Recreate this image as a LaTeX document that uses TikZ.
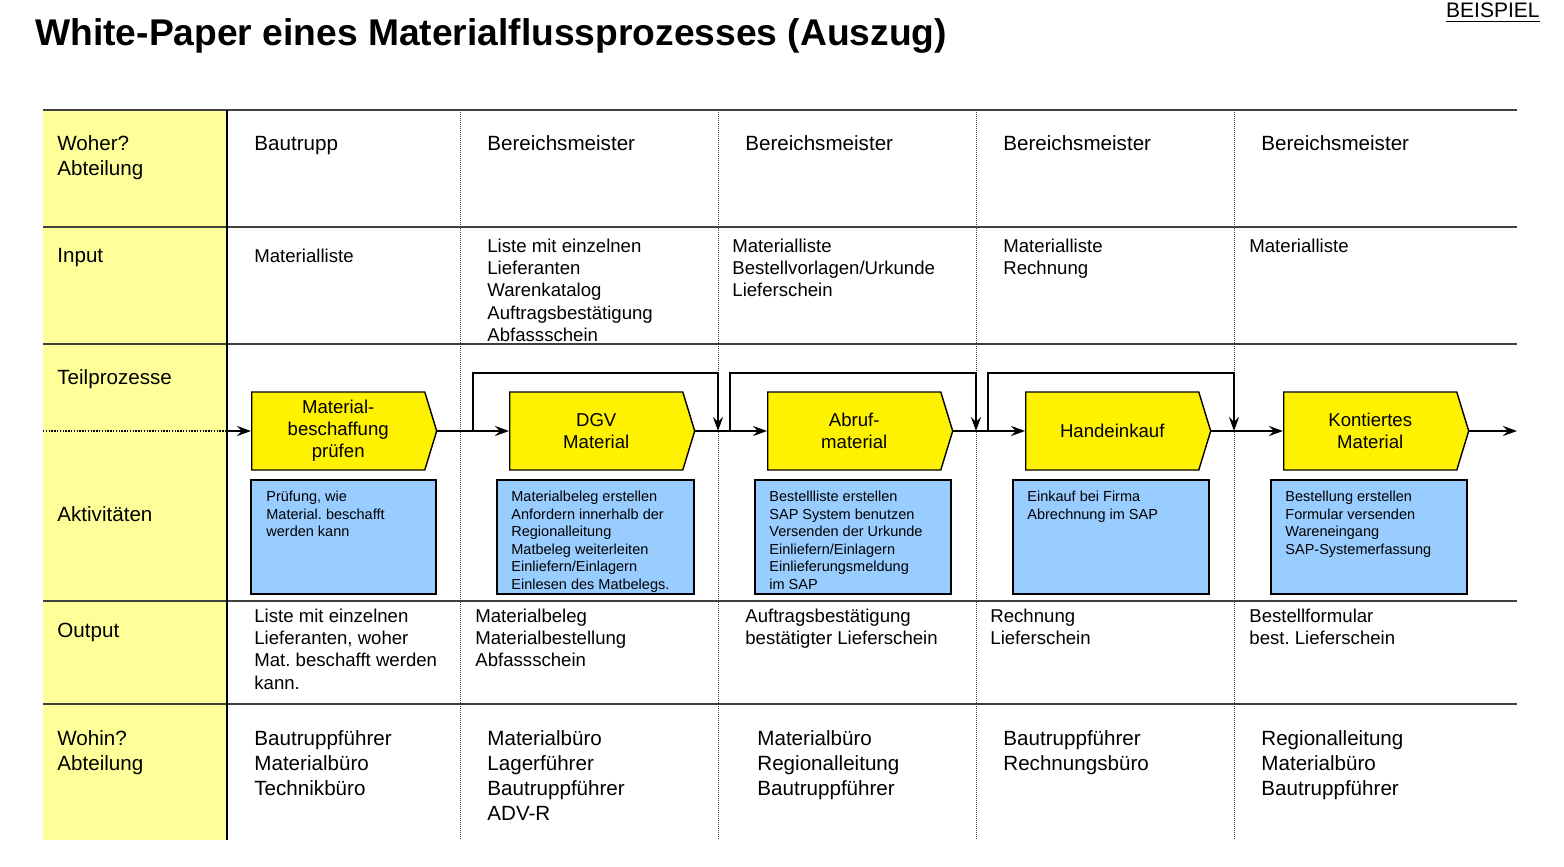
\documentclass[tikz,border=0pt]{standalone}
\usepackage{fontspec}
\setmainfont{Liberation Sans}
\usetikzlibrary{arrows.meta,shapes.symbols}
\definecolor{spaltengelb}{HTML}{FFFF99}
\definecolor{aktivblau}{HTML}{99CCFF}
\definecolor{linie}{HTML}{404040}
\frenchspacing

\begin{document}
\begin{tikzpicture}[x=0.5pt,y=-0.5pt,
  kopf/.style={anchor=north west,inner sep=0pt,align=left,font=\fontsize{10.3}{12.4}\selectfont},
  eintrag/.style={anchor=north west,inner sep=0pt,align=left,font=\fontsize{9.3}{11.2}\selectfont},
  prozess/.style={shape=signal,signal to=east,signal from=nowhere,signal pointer angle=146,
    fill=yellow,draw=black,line width=0.7pt,minimum width=92.5pt,minimum height=39pt,
    inner sep=0pt,align=center,anchor=west,font=\fontsize{9.3}{11}\selectfont},
  aktiv/.style={draw=black,line width=1pt,fill=aktivblau},
  aktext/.style={anchor=north west,inner sep=0pt,align=left,font=\fontsize{7.25}{8.75}\selectfont},
  fluss/.style={line width=1pt,-{Stealth[length=7pt,width=5pt,inset=2.5pt]}},
  trenner/.style={black!75,line width=0.5pt,dash pattern=on 0.5pt off 0.5pt}]
  \useasboundingbox (0,0) rectangle (1564,867);

  \node[anchor=base west,inner sep=0pt,font=\fontsize{18.6}{22}\selectfont\bfseries] (titel) at (35,46)
    {White-Paper eines Materialflussprozesses (Auszug)};
  \node[anchor=base east,inner sep=0pt,font=\fontsize{10.5}{12}\selectfont] (beispiel) at (1540,18)
    {\underline{BEISPIEL}};

  \fill[spaltengelb] (43,110) rectangle (227,840);
  \foreach \y in {110,227,344,601,704}
    \draw[linie,line width=1pt] (43,\y) -- (1517,\y);
  \draw[black,line width=0.6pt] (227,110) -- (227,840);
  \foreach \x in {460,718,976,1234}
    \draw[trenner] (\x,110) -- (\x,840);
  \draw[black,line width=0.9pt,dash pattern=on 0.7pt off 0.7pt] (43,431) -- (227,431);

  \node[kopf] (woher) at (57,135.6) {Woher?\\Abteilung};
  \node[kopf] (input) at (57,247.6) {Input};
  \node[kopf] (teil) at (57,369.6) {Teilprozesse};
  \node[kopf] (akt) at (57,506.6) {Aktivitäten};
  \node[kopf] (output) at (57,622.6) {Output};
  \node[kopf] (wohin) at (57,730.6) {Wohin?\\Abteilung};

  \node[kopf] (von1) at (254,135.6) {Bautrupp};
  \node[kopf] (von2) at (487,135.6) {Bereichsmeister};
  \node[kopf] (von3) at (745,135.6) {Bereichsmeister};
  \node[kopf] (von4) at (1003,135.6) {Bereichsmeister};
  \node[kopf] (von5) at (1261,135.6) {Bereichsmeister};

  \node[eintrag] (in1) at (254,248.3) {Materialliste};
  \node[eintrag] (in2) at (487,238.3) {Liste mit einzelnen\\Lieferanten\\Warenkatalog\\Auftragsbestätigung\\Abfassschein};
  \node[eintrag] (in3) at (732,238.3) {Materialliste\\Bestellvorlagen/Urkunde\\Lieferschein};
  \node[eintrag] (in4) at (1003,238.3) {Materialliste\\Rechnung};
  \node[eintrag] (in5) at (1249,238.3) {Materialliste};

  \node[prozess] (p1) at (251,431) {Material-\\beschaffung\\prüfen};
  \node[prozess] (p2) at (509,431) {DGV\\Material};
  \node[prozess] (p3) at (767,431) {Abruf-\\material};
  \node[prozess] (p4) at (1025,431) {Handeinkauf};
  \node[prozess] (p5) at (1283,431) {Kontiertes\\Material};

  \coordinate (start) at (227,431);
  \coordinate (ende) at (1517,431);
  \draw[fluss] (start) -- (p1.west);
  \draw[fluss] (p1.east) -- (p2.west);
  \draw[fluss] (p2.east) -- (p3.west);
  \draw[fluss] (p3.east) -- (p4.west);
  \draw[fluss] (p4.east) -- (p5.west);
  \draw[fluss] (p5.east) -- (ende);
  \foreach \a/\z in {473/718,730/976,988/1234}
    \draw[fluss] (\a,431) -- (\a,373) -- (\z,373) -- (\z,431);

  \draw[aktiv] (251,480) rectangle (436,594);
  \draw[aktiv] (497,480) rectangle (694,594);
  \draw[aktiv] (755,480) rectangle (951,594);
  \draw[aktiv] (1013,480) rectangle (1209,594);
  \draw[aktiv] (1271,480) rectangle (1467,594);
  \node[aktext] (t1) at (266,490.8) {Prüfung, wie\\Material. beschafft\\werden kann};
  \node[aktext] (t2) at (511,490.8) {Materialbeleg erstellen\\Anfordern innerhalb der\\Regionalleitung\\Matbeleg weiterleiten\\Einliefern/Einlagern\\Einlesen des Matbelegs.};
  \node[aktext] (t3) at (769,490.8) {Bestellliste erstellen\\SAP System benutzen\\Versenden der Urkunde\\Einliefern/Einlagern\\Einlieferungsmeldung\\im SAP};
  \node[aktext] (t4) at (1027,490.8) {Einkauf bei Firma\\Abrechnung im SAP};
  \node[aktext] (t5) at (1285,490.8) {Bestellung erstellen\\Formular versenden\\Wareneingang\\SAP-Systemerfassung};

  \node[eintrag] (out1) at (254,608.3) {Liste mit einzelnen\\Lieferanten, woher\\Mat. beschafft werden\\kann.};
  \node[eintrag] (out2) at (475,608.3) {Materialbeleg\\Materialbestellung\\Abfassschein};
  \node[eintrag] (out3) at (745,608.3) {Auftragsbestätigung\\bestätigter Lieferschein};
  \node[eintrag] (out4) at (990,608.3) {Rechnung\\Lieferschein};
  \node[eintrag] (out5) at (1249,608.3) {Bestellformular\\best. Lieferschein};

  \node[kopf] (nach1) at (254,730.6) {Bautruppführer\\Materialbüro\\Technikbüro};
  \node[kopf] (nach2) at (487,730.6) {Materialbüro\\Lagerführer\\Bautruppführer\\ADV-R};
  \node[kopf] (nach3) at (757,730.6) {Materialbüro\\Regionalleitung\\Bautruppführer};
  \node[kopf] (nach4) at (1003,730.6) {Bautruppführer\\Rechnungsbüro};
  \node[kopf] (nach5) at (1261,730.6) {Regionalleitung\\Materialbüro\\Bautruppführer};
\end{tikzpicture}
\end{document}
